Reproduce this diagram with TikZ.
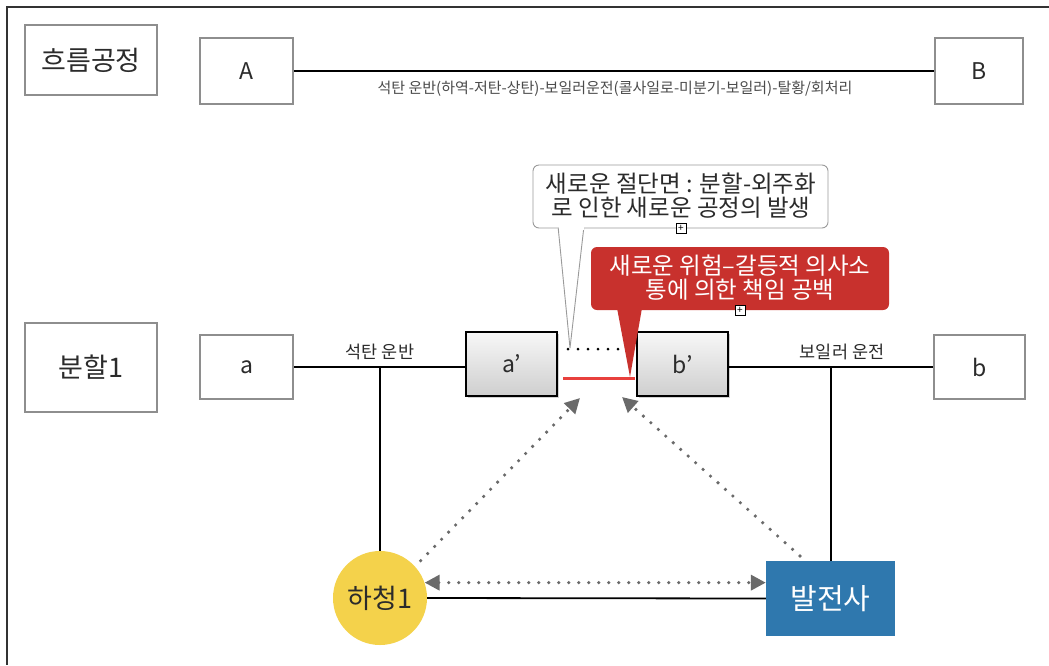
\documentclass[tikz,border=0pt]{standalone}
\usepackage{fontspec}
\setmainfont{Noto Sans CJK KR}
\usetikzlibrary{arrows.meta,shadows,calc}
\definecolor{boxgray}{HTML}{8E8E8E}
\definecolor{txt}{HTML}{2B2B2B}
\definecolor{yel}{HTML}{F4D24B}
\definecolor{blu}{HTML}{2F78AE}
\definecolor{redc}{HTML}{C8312D}
\definecolor{redl}{HTML}{E8403D}
\definecolor{arrg}{HTML}{6A6A6A}
\definecolor{callg}{HTML}{9A9A9A}
\begin{document}
\begin{tikzpicture}[x=1pt,y=-1pt,
  gbox/.style={draw=boxgray, line width=2.2pt, fill=white, text=txt, inner sep=0pt},
  headfont/.style={font=\fontsize{27}{31}\selectfont},
  letfont/.style={font=\fontsize{23}{27}\selectfont},
  shbox/.style={draw=black, line width=2pt, top color=gray!6, bottom color=gray!38,
    text=txt, inner sep=0pt, minimum width=91pt, minimum height=64pt,
    drop shadow={shadow xshift=2pt, shadow yshift=-2pt, opacity=0.35},
    font=\fontsize{23}{27}\selectfont},
  conn/.style={draw=black, line width=1.8pt},
  dotarrow/.style={draw=arrg, line width=3.6pt, line cap=round, dash pattern=on 0pt off 10pt,
    -{Triangle[length=15pt,width=15pt]}},
  ddotarrow/.style={draw=arrg, line width=3.6pt, line cap=round, dash pattern=on 0pt off 10pt,
    {Triangle[length=15pt,width=15pt]}-{Triangle[length=15pt,width=15pt]}},
  lbl/.style={text=txt, inner sep=0pt, font=\fontsize{17.5}{20}\selectfont},
  plusbox/.style={draw=black, line width=0.8pt, fill=white, minimum size=10pt, inner sep=0pt,
    font=\fontsize{10}{10}\selectfont}
]
\useasboundingbox (0,0) rectangle (1049,665);
\fill[white] (0,0) rectangle (1049,665);
% outer frame
\draw[line width=1.5pt, black!80] (1049,7) -- (7,7) -- (7,665);

% top row
\node[gbox, headfont, minimum width=132pt, minimum height=70pt] (flow) at (91,60) {흐름공정};
\node[gbox, letfont, minimum width=93pt, minimum height=66pt] (A) at (246.5,71) {A};
\node[gbox, letfont, minimum width=88pt, minimum height=66pt] (B) at (979,71) {B};
\draw[conn] (A.east) -- (B.west);
\node[text=txt!85, inner sep=0pt, font=\fontsize{15}{17}\selectfont] (sub) at (615,89)
  {석탄 운반(하역-저탄-상탄)-보일러운전(콜사일로-미분기-보일러)-탈황/회처리};

% second row
\node[gbox, headfont, minimum width=132pt, minimum height=89pt] (split) at (91,367.5) {분할1};
\node[gbox, letfont, minimum width=93pt, minimum height=64pt] (a) at (246.5,367) {a};
\node[gbox, letfont, minimum width=91pt, minimum height=64pt] (b) at (979.5,367) {b};
\node[shbox] (ap) at (511.5,364) {a’};
\node[shbox] (bp) at (682.5,364) {b’};
\draw[conn] (a.east) -- (a.east -| ap.west);
\draw[conn] (b.west) -- (b.west -| bp.east);
\node[lbl] (l1) at (380,352) {석탄 운반};
\node[lbl] (l2) at (842,352) {보일러 운전};

% bottom actors
\node[circle, fill=yel, minimum size=94pt, inner sep=0pt, text=txt,
  font=\fontsize{27}{31}\selectfont] (hc) at (380,598) {하청1};
\node[fill=blu, minimum width=129pt, minimum height=75pt, inner sep=0pt, text=white,
  font=\fontsize{29}{33}\selectfont] (bal) at (830.5,598.5) {발전사};

\coordinate (j1) at (380,367);
\coordinate (j2) at (831,367);
\draw[conn] (j1) -- (hc.north);
\draw[conn] (j2) -- (j2 |- bal.north);
\draw[conn] (hc.east) -- (bal.west);

% dotted arrows
\coordinate (t1) at (580,398);
\coordinate (t2) at (622,397);
\coordinate (s2) at (800,556);
\draw[ddotarrow] (hc.19) -- (hc.19 -| bal.west);
\draw[dotarrow, shorten <=8pt] (hc.42) -- (t1);
\draw[dotarrow] (s2) -- (t2);

% gap marks
\coordinate (d1) at (568,349);
\coordinate (d2) at (618,349);
\draw[black, line width=3pt, line cap=round, dash pattern=on 0pt off 10pt] (d1) -- (d2);
\coordinate (r1) at (563,378);
\coordinate (r2) at (635,378);
\draw[redl, line width=3pt] (r1) -- (r2);

% white callout
\fill[white, draw=callg, line width=0.9pt, line join=round] (558,226) -- (570,348) -- (584,226);
\draw[fill=white, draw=callg, line width=0.9pt, rounded corners=6pt] (533,165) rectangle (828,228);
\fill[white] (559,226.5) rectangle (583.5,229.5);
\node[text=txt, align=center, inner sep=0pt, font=\fontsize{23.5}{24}\selectfont] (c1) at (681,196)
  {새로운 절단면 : 분할-외주화\\로 인한 새로운 공정의 발생};
\node[plusbox] (p1) at (681,228) {+};

% red callout
\fill[redc] (617,308) -- (630,377) -- (642,308) -- cycle;
\fill[redc, rounded corners=6pt] (591,247) rectangle (889,310);
\node[text=white, align=center, inner sep=0pt, font=\fontsize{23.5}{24}\selectfont] (c2) at (740,278)
  {새로운 위험–갈등적 의사소\\통에 의한 책임 공백};
\node[plusbox] (p2) at (740,310) {+};
\end{tikzpicture}
\end{document}
